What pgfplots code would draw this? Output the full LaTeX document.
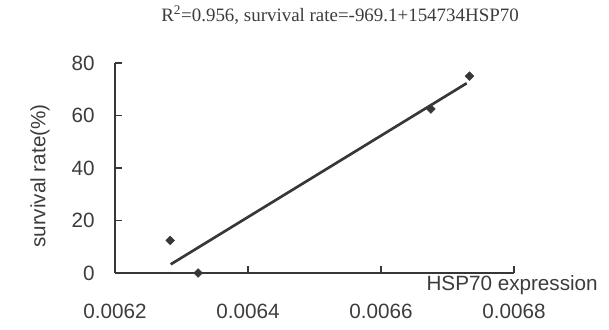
\documentclass[border=0pt]{standalone}
\usepackage{pgfplots}
\pgfplotsset{compat=1.18}
\usepackage{fontspec}
\setmainfont{Liberation Sans}
\newfontfamily\seriffont{Liberation Serif}
\definecolor{ink}{RGB}{55,55,55}
\definecolor{txt}{RGB}{60,60,60}
\begin{document}
\begin{tikzpicture}
\path[use as bounding box] (0,0) rectangle (456.75pt,246.75pt);
\begin{axis}[
  at={(86.25pt,42pt)}, anchor=south west,
  scale only axis, width=299.25pt, height=157.5pt,
  xmin=0.0062, xmax=0.0068, ymin=0, ymax=80,
  axis x line=bottom, axis y line=left,
  axis line style={-, ink, line width=1.1pt},
  every tick/.style={ink, line width=1.1pt},
  tick align=inside, major tick length=5pt,
  xtick={0.0062,0.0064,0.0066,0.0068},
  xticklabels={0.0062,0.0064,0.0066,0.0068},
  ytick={0,20,40,60,80},
  yticklabels={0,20,40,60,80},
  xticklabel style={anchor=center, inner sep=0pt, yshift=-28.5pt, font=\fontsize{15.5}{18}\selectfont, text=txt},
  yticklabel style={anchor=east, inner sep=0pt, xshift=-15pt, font=\fontsize{15.5}{18}\selectfont, text=txt},
  clip=false,
]
\addplot[ink, line width=2pt] coordinates {(0.0062838,3.3) (0.0067289,72.3)};
\addplot[only marks, mark=square*, mark size=2.3pt, mark options={rotate=45, fill=ink, draw=ink}] coordinates {
  (0.006283,12.4)
  (0.006325,0)
  (0.006675,62.5)
  (0.006733,75.0)
};
\end{axis}
\node[anchor=east, inner sep=0pt, text=txt, font=\fontsize{15.5}{18}\selectfont] at (448.5pt,33pt) {HSP70 expression};
\node[rotate=90, inner sep=0pt, text=txt, font=\fontsize{15.5}{18}\selectfont] at (30pt,114.75pt) {survival rate(\%)};
\node[inner sep=0pt, text=txt, font=\seriffont\fontsize{14.2}{17}\selectfont] at (255pt,235.5pt) {R\textsuperscript{2}=0.956, survival rate=-969.1+154734HSP70};
\end{tikzpicture}
\end{document}
